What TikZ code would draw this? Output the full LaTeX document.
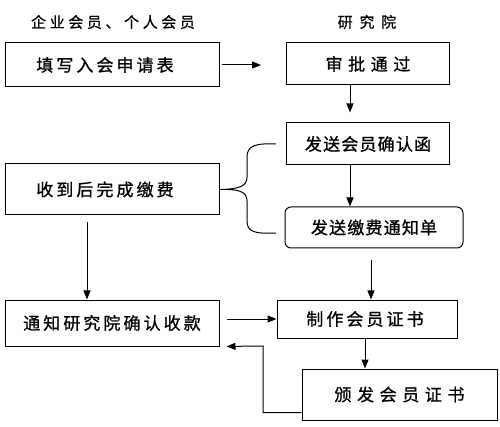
\documentclass[tikz,border=0pt]{standalone}
\usepackage{fontspec}
\newfontfamily\cjk[LetterSpace=18, FakeBold=1]{Noto Sans CJK SC}
\newfontfamily\cjkwide[LetterSpace=33, FakeBold=1]{Noto Sans CJK SC}
\newfontfamily\cjktight[LetterSpace=7, FakeBold=1]{Noto Sans CJK SC}
\newfontfamily\cjkhead[LetterSpace=24, FakeBold=0.6]{Noto Sans CJK SC}
\newfontfamily\cjkheadwide[LetterSpace=45, FakeBold=0.6]{Noto Sans CJK SC}
\usetikzlibrary{arrows.meta}
\newcommand{\lw}{1pt}
\newcommand{\bfs}{\fontsize{17}{17}\selectfont}

\begin{document}
\begin{tikzpicture}[x=1pt, y=-1pt,
    box/.style={draw, rectangle, line width=\lw, inner sep=0pt, font=\cjk\bfs},
    arr/.style={line width=\lw, -{Triangle[length=9pt,width=7pt]}},
    head/.style={inner sep=0pt, font=\fontsize{15}{15}\selectfont}]
    \useasboundingbox (0,0) rectangle (500,427);

    % Headings
    \node[head] (head-member) at (113,22) {\cjkhead 企业会员、个人会员};
    \node[head] (head-inst) at (367,22) {\cjkheadwide 研究院};

    % Left column
    \node[box, minimum width=214pt, minimum height=44pt] (apply) at (112,65) {填写入会申请表\kern14pt};
    \node[box, minimum width=214pt, minimum height=51pt] (pay) at (112,189.5) {收到后完成缴费\kern14pt};
    \node[box, minimum width=214pt, minimum height=46pt] (notify) at (112,323) {通知研究院确认收款};

    % Right column
    \node[box, minimum width=163pt, minimum height=42pt] (approve) at (368,64) {\cjkwide\bfs 审批通过};
    \node[box, minimum width=163pt, minimum height=42pt] (confirm) at (368,144) {\cjktight\bfs 发送会员确认函};
    \node[box, rounded corners=6pt, minimum width=178pt, minimum height=41pt] (bill) at (374,227.5) {\cjktight\bfs 发送缴费通知单};
    \node[box, minimum width=180pt, minimum height=38pt] (make) at (367,319) {制作会员证书\kern4pt};
    \node[box, minimum width=195pt, minimum height=51pt] (issue) at (399.5,394.5) {\cjkwide\bfs 颁发会员证书};

    % Brace
    \coordinate (brace-top) at (276,144);
    \coordinate (brace-bot) at (276,233);
    \draw[line width=\lw] (brace-top) .. controls (255,143) and (247,146) .. (247,157)
        -- (247,177) .. controls (247,187) and (238,189) .. (pay.east)
        .. controls (238,189) and (247,191) .. (247,201)
        -- (247,221) .. controls (247,232) and (255,234) .. (brace-bot);

    % Arrows
    \draw[arr, shorten <=2pt, shorten >=25pt] (apply.east) -- (apply.east -| approve.west);
    \draw[arr, shorten >=10pt] ([xshift=-18pt]approve.south) -- ([xshift=-18pt]approve.south |- confirm.north);
    \draw[arr] ([xshift=-18pt]confirm.south) -- ([xshift=-18pt]confirm.south |- bill.north);
    \draw[arr, shorten <=7pt] ([xshift=-25pt]pay.south) -- ([xshift=-25pt]pay.south |- notify.north);
    \draw[arr, shorten <=12pt] ([xshift=-3pt]bill.south) -- ([xshift=-3pt]bill.south |- make.north);
    \draw[arr, shorten <=7pt] (notify.east |- make.west) -- (make.west);
    \draw[arr] ([xshift=-2pt]make.south) -- ([xshift=-2pt]make.south |- issue.north);
    \draw[arr, shorten >=7pt] ([yshift=-18pt]issue.west) -| (263,346) -- (notify.south east);
\end{tikzpicture}
\end{document}
